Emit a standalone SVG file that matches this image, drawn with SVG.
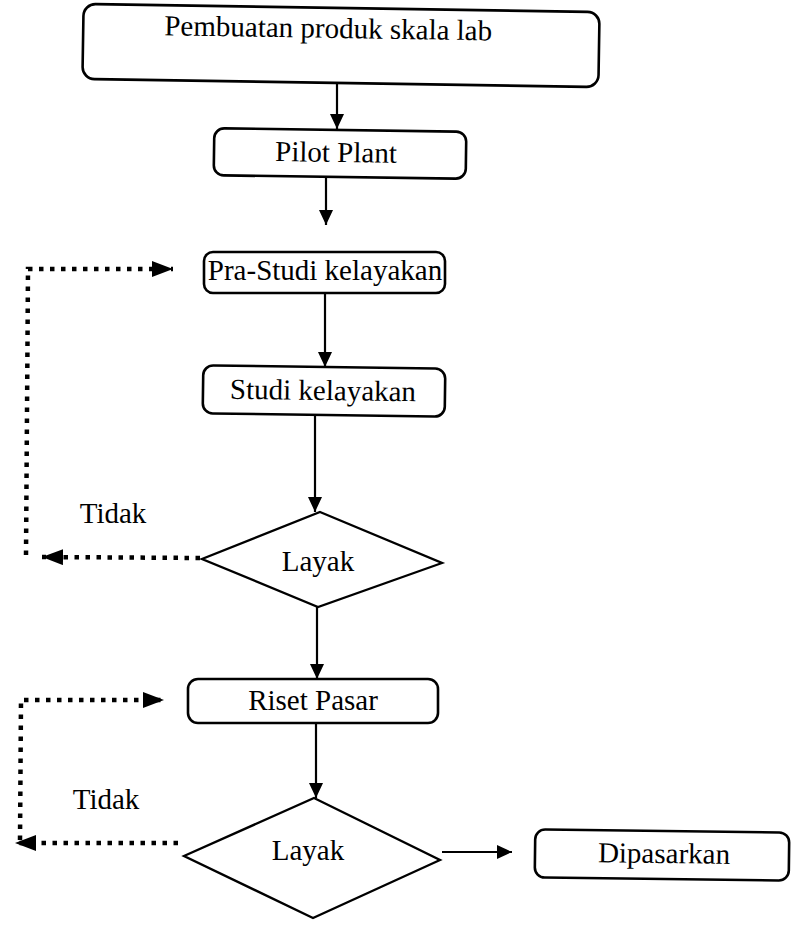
<svg xmlns="http://www.w3.org/2000/svg" width="792" height="930" viewBox="0 0 792 930">
<style>
.box{fill:#fff;stroke:#000;stroke-width:2.6}
.dia{fill:#fff;stroke:#000;stroke-width:2.3}
.t{font-family:"Liberation Serif","Times New Roman",serif;font-size:29px;fill:#000;text-anchor:middle}
.ln{stroke:#000;stroke-width:2.2;fill:none}
.dot{stroke:#000;stroke-width:4.5;fill:none;stroke-dasharray:4.5 6.5}
</style>
<defs>
<marker id="ah" markerUnits="userSpaceOnUse" markerWidth="16" markerHeight="14" refX="15" refY="7" orient="auto">
<path d="M0,0 L15,7 L0,14 Z" fill="#000"/>
</marker>
<marker id="ahd" markerUnits="userSpaceOnUse" markerWidth="22" markerHeight="16" refX="21" refY="8" orient="auto">
<path d="M0,0 L21,8 L0,16 Z" fill="#000"/>
</marker>
</defs>
<g id="connectors">
<line class="ln" x1="337" y1="83" x2="337" y2="129" marker-end="url(#ah)"/>
<line class="ln" x1="326" y1="178" x2="326" y2="225" marker-end="url(#ah)"/>
<line class="ln" x1="325" y1="293" x2="325" y2="367" marker-end="url(#ah)"/>
<line class="ln" x1="315" y1="415" x2="315" y2="512" marker-end="url(#ah)"/>
<line class="ln" x1="317" y1="607" x2="317" y2="679" marker-end="url(#ah)"/>
<line class="ln" x1="316" y1="723" x2="316" y2="798" marker-end="url(#ah)"/>
<line class="ln" x1="442" y1="852" x2="512" y2="852" marker-end="url(#ah)"/>
<polyline class="dot" points="200,558 42,557" marker-end="url(#ahd)"/>
<polyline class="dot" points="26,555 28,269 173,269" marker-end="url(#ahd)"/>
<polyline class="dot" points="178,843 15,843" marker-end="url(#ahd)"/>
<polyline class="dot" points="20,840 21,700 164,700" marker-end="url(#ahd)"/>
</g>
<g id="node-lab" transform="rotate(0.9 341 45)">
<rect class="box" x="83" y="8" width="516" height="75" rx="12"/>
<text class="t" x="328" y="38">Pembuatan produk skala lab</text>
</g>
<g id="node-pilot" transform="rotate(0.8 340 154)">
<rect class="box" x="214" y="130" width="252" height="47" rx="10"/>
<text class="t" x="336" y="162">Pilot Plant</text>
</g>
<g id="node-prastudi">
<rect class="box" x="204" y="252" width="241" height="41" rx="9"/>
<text class="t" x="325" y="280">Pra-Studi kelayakan</text>
</g>
<g id="node-studi" transform="rotate(0.8 324 391)">
<rect class="box" x="203" y="367" width="242" height="48" rx="10"/>
<text class="t" x="323" y="400">Studi kelayakan</text>
</g>
<g id="node-layak1">
<polygon class="dia" points="320,512 442,563 318,607 202,559"/>
<text class="t" x="318" y="571">Layak</text>
</g>
<g id="label-tidak1">
<text class="t" x="113" y="523">Tidak</text>
</g>
<g id="node-riset">
<rect class="box" x="188" y="679" width="250" height="44" rx="10"/>
<text class="t" x="313" y="710">Riset Pasar</text>
</g>
<g id="label-tidak2">
<text class="t" x="106" y="809">Tidak</text>
</g>
<g id="node-layak2">
<polygon class="dia" points="314,798 440,860 313,918 184,856"/>
<text class="t" x="308" y="860">Layak</text>
</g>
<g id="node-dipasarkan" transform="rotate(0.7 662 855)">
<rect class="box" x="535" y="831" width="254" height="48" rx="10"/>
<text class="t" x="664" y="863">Dipasarkan</text>
</g>
</svg>
